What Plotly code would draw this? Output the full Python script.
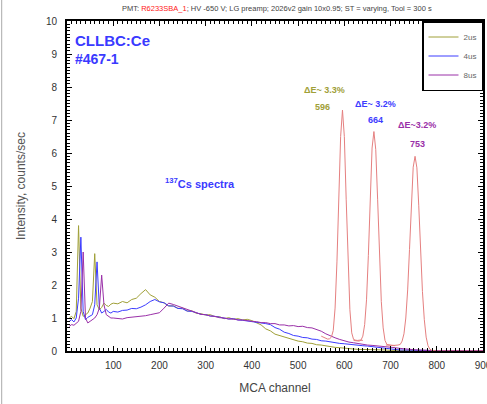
import plotly.graph_objects as go

# ---------------- data ----------------
channels = [5, 10, 15, 20, 25, 30, 35, 40, 45, 50, 55, 60, 65, 70, 75, 80, 85, 90, 95, 100,
            110, 120, 130, 140, 150, 160, 170, 180, 190, 200, 210, 220, 230, 240, 250, 260, 270, 280, 290, 300,
            310, 320, 330, 340, 350, 360, 370, 380, 390, 400, 410, 420, 430, 440, 450, 460, 470, 480, 490, 500,
            510, 520, 530, 540, 550, 560, 570, 580, 590, 600, 610, 620, 630, 640, 650, 660, 670, 680, 690, 700,
            710, 720, 730, 740, 750, 760, 770, 780, 790, 800, 810, 820, 830, 840, 850, 860, 870, 880, 890, 900]

counts_2us = [1.0, 1.05, 0.98, 1.2, 3.8, 1.3, 1.05, 1.1, 1.15, 1.3, 1.5, 2.95, 1.4, 1.25, 1.32, 1.45, 1.38, 1.35, 1.42, 1.45,
              1.43, 1.5, 1.46, 1.56, 1.6, 1.74, 1.86, 1.7, 1.63, 1.5, 1.46, 1.36, 1.37, 1.29, 1.3, 1.21, 1.22, 1.14, 1.13, 1.09,
              1.1, 1.04, 1.04, 0.98, 1.01, 0.96, 0.98, 0.94, 0.96, 0.92, 0.85, 0.79, 0.67, 0.61, 0.51, 0.47, 0.41, 0.39, 0.33, 0.3,
              0.28, 0.24, 0.23, 0.19, 0.18, 0.15, 0.14, 0.11, 0.1, 0.08, 0.07, 0.06, 0.05, 0.05, 0.04, 0.04, 0.03, 0.03, 0.03, 0.02,
              0.02, 0.02, 0.02, 0.02, 0.01, 0.01, 0.01, 0.01, 0.01, 0.01, 0.01, 0.01, 0.01, 0.01, 0.01, 0.01, 0.01, 0.01, 0.01, 0.01]

counts_4us = [0.9, 0.95, 0.88, 1.0, 1.6, 3.45, 1.2, 0.95, 1.02, 1.05, 1.1, 1.4, 2.7, 1.3, 1.15, 1.2, 1.26, 1.18, 1.15, 1.2,
              1.18, 1.23, 1.24, 1.29, 1.28, 1.33, 1.4, 1.5, 1.56, 1.49, 1.46, 1.37, 1.36, 1.29, 1.28, 1.21, 1.2, 1.16, 1.11, 1.1,
              1.06, 1.05, 1.02, 1.0, 0.97, 0.98, 0.94, 0.93, 0.91, 0.9, 0.87, 0.87, 0.83, 0.8, 0.71, 0.66, 0.57, 0.53, 0.47, 0.45,
              0.41, 0.4, 0.36, 0.35, 0.31, 0.3, 0.27, 0.26, 0.23, 0.22, 0.2, 0.19, 0.17, 0.16, 0.15, 0.13, 0.11, 0.09, 0.07, 0.05,
              0.04, 0.03, 0.03, 0.02, 0.02, 0.02, 0.02, 0.01, 0.01, 0.01, 0.01, 0.01, 0.01, 0.01, 0.01, 0.01, 0.01, 0.01, 0.01, 0.01]

counts_8us = [0.75, 0.8, 0.78, 0.85, 0.9, 1.2, 3.0, 1.0, 0.85, 0.9, 0.95, 1.0, 1.1, 1.3, 2.3, 1.4, 1.1, 1.05, 1.0, 1.0,
              0.99, 0.97, 1.01, 1.02, 1.04, 1.06, 1.07, 1.1, 1.12, 1.16, 1.3, 1.45, 1.41, 1.36, 1.29, 1.26, 1.19, 1.16, 1.11, 1.1,
              1.06, 1.05, 1.01, 1.0, 0.97, 0.97, 0.94, 0.94, 0.91, 0.9, 0.89, 0.86, 0.86, 0.83, 0.83, 0.79, 0.79, 0.76, 0.77, 0.74,
              0.75, 0.71, 0.7, 0.65, 0.6, 0.52, 0.45, 0.4, 0.35, 0.3, 0.27, 0.25, 0.22, 0.2, 0.18, 0.17, 0.16, 0.15, 0.14, 0.12,
              0.1, 0.08, 0.06, 0.05, 0.04, 0.03, 0.02, 0.02, 0.01, 0.01, 0.01, 0.01, 0.01, 0.01, 0.01, 0.01, 0.01, 0.01, 0.01, 0.01]

# photopeak regions (drawn in salmon in the reference)
peak_ch_2us = [550, 556, 560, 564, 568, 572, 576, 580, 584, 588, 592, 596, 600, 604, 608, 612, 616, 620, 624, 628, 634, 640]
peak_ct_2us = [0.45, 0.4, 0.38, 0.36, 0.37, 0.42, 0.62, 1.3, 2.7, 4.6, 6.5, 7.3, 6.5, 4.6, 2.6, 1.25, 0.55, 0.35, 0.33, 0.32, 0.33, 0.32]

peak_ch_4us = [620, 626, 632, 636, 640, 644, 648, 652, 656, 660, 664, 668, 672, 676, 680, 684, 688, 692, 696, 702, 710]
peak_ct_4us = [0.32, 0.3, 0.3, 0.33, 0.45, 0.8, 1.55, 2.9, 4.65, 6.15, 6.65, 6.1, 4.6, 2.85, 1.5, 0.7, 0.32, 0.2, 0.18, 0.17, 0.16]

peak_ch_8us = [690, 700, 708, 716, 721, 725, 729, 733, 737, 741, 745, 749, 753, 757, 761, 765, 769, 773, 777, 781, 785, 789, 800, 850, 900]
peak_ct_8us = [0.18, 0.17, 0.17, 0.18, 0.2, 0.3, 0.52, 1.0, 1.85, 3.08, 4.45, 5.57, 5.9, 5.55, 4.4, 3.0, 1.8, 0.95, 0.42, 0.16, 0.06, 0.02, 0.0, 0.0, 0.0]

series_names = ["2us", "4us", "8us"]
series_counts = [counts_2us, counts_4us, counts_8us]
series_colors = ["#a0a038", "#3c3cff", "#9a30a8"]
peak_color = "#e58080"

x_ticks = [100, 200, 300, 400, 500, 600, 700, 800, 900]
y_ticks = [0, 1, 2, 3, 4, 5, 6, 7, 8, 9, 10]

font_family = "Liberation Sans, Arial, sans-serif"

fig = go.Figure()

for name, cts, col in zip(series_names, series_counts, series_colors):
    fig.add_trace(go.Scatter(x=channels, y=cts, mode="lines", name=name,
                             line=dict(color=col, width=1)))

for pc, pv in [(peak_ch_2us, peak_ct_2us), (peak_ch_4us, peak_ct_4us), (peak_ch_8us, peak_ct_8us)]:
    fig.add_trace(go.Scatter(x=pc, y=pv, mode="lines", showlegend=False,
                             line=dict(color=peak_color, width=1)))

axis_common = dict(
    showline=True, linecolor="black", linewidth=2, mirror="allticks",
    ticks="inside", ticklen=5, tickwidth=1.2, tickcolor="black",
    showgrid=False, zeroline=False, automargin=False, ticklabeloverflow="allow",
    tickfont=dict(family=font_family, size=10, color="#333333"),
)

fig.update_xaxes(range=[0, 900], tickvals=x_ticks, ticklabelstandoff=4,
                 minor=dict(ticks="inside", dtick=10, ticklen=3, tickcolor="black", tickwidth=1),
                 title=dict(text="MCA channel", font=dict(family=font_family, size=12, color="#444444"), standoff=14),
                 **axis_common)
fig.update_yaxes(range=[0, 10], tickvals=y_ticks, ticklabelstandoff=6,
                 minor=dict(ticks="inside", dtick=0.1, ticklen=3, tickcolor="black", tickwidth=1),
                 title=dict(text="Intensity, counts/sec", font=dict(family=font_family, size=12, color="#555555"), standoff=18),
                 **axis_common)

annotations = [
    dict(xref="paper", yref="paper", x=0.505, y=1.0, yshift=13, xanchor="center", yanchor="middle",
         text="PMT: <span style='color:#ff2020'>R6233SBA_1</span>; HV -650 V; LG preamp; 2026v2 gain 10x0.95; ST = varying, Tool = 300 s",
         font=dict(family=font_family, size=7.5, color="#444444"), showarrow=False),
    dict(xref="paper", yref="paper", x=0.014, y=0.94, xanchor="left", yanchor="middle",
         text="<b>CLLBC:Ce</b>", font=dict(family=font_family, size=15, color="#3a3aff"), showarrow=False),
    dict(xref="paper", yref="paper", x=0.014, y=0.885, xanchor="left", yanchor="middle",
         text="<b>#467-1</b>", font=dict(family=font_family, size=14, color="#3a3aff"), showarrow=False),
    dict(x=288, y=5.1, xanchor="center", yanchor="middle",
         text="<b><sup>137</sup>Cs spectra</b>", font=dict(family=font_family, size=11, color="#3a3aff"), showarrow=False),
    dict(x=556, y=7.9, text="<b>ΔE~ 3.3%</b>", font=dict(family=font_family, size=9, color="#a0a038"), showarrow=False),
    dict(x=552, y=7.38, text="<b>596</b>", font=dict(family=font_family, size=9, color="#a0a038"), showarrow=False),
    dict(x=667, y=7.5, text="<b>ΔE~ 3.2%</b>", font=dict(family=font_family, size=9, color="#3c3cff"), showarrow=False),
    dict(x=667, y=6.99, text="<b>664</b>", font=dict(family=font_family, size=9, color="#3c3cff"), showarrow=False),
    dict(x=758, y=6.84, text="<b>ΔE~3.2%</b>", font=dict(family=font_family, size=9, color="#9a30a8"), showarrow=False),
    dict(x=758, y=6.27, text="<b>753</b>", font=dict(family=font_family, size=9, color="#9a30a8"), showarrow=False),
]

fig.update_layout(
    width=487, height=404,
    margin=dict(l=67, r=4, t=21, b=53, autoexpand=False),
    paper_bgcolor="white", plot_bgcolor="white",
    font=dict(family=font_family),
    showlegend=True,
    legend=dict(x=1, y=1, xanchor="right", yanchor="top", bgcolor="white",
                bordercolor="black", borderwidth=1.5,
                font=dict(family=font_family, size=8, color="#666666"),
                itemwidth=30, tracegroupgap=0),
    annotations=annotations,
    shapes=[dict(type="line", xref="paper", yref="paper", x0=-0.157, x1=-0.157, y0=-0.2, y1=1.07,
                 line=dict(color="#aaaaaa", width=1))],
)

fig.write_html("out.html", config={"displayModeBar": False},
               post_script="document.body.style.margin='0px';document.body.style.padding='0px';document.documentElement.style.overflow='hidden';document.body.style.overflow='hidden';")
